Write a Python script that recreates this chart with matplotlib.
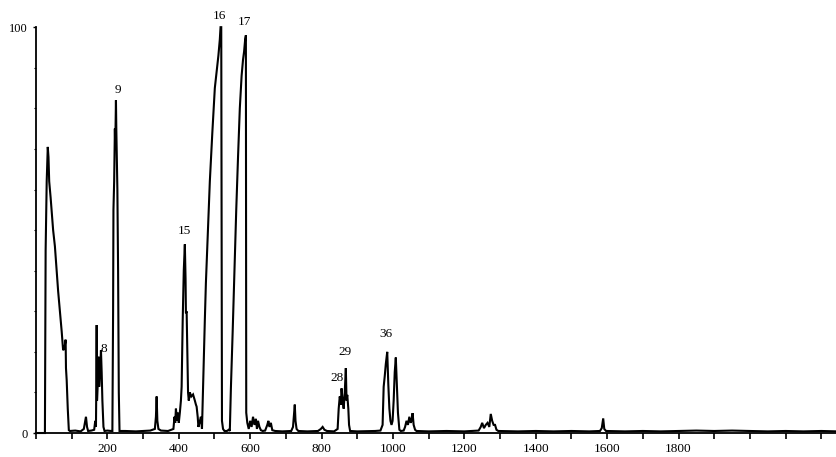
import matplotlib
matplotlib.use("Agg")
import matplotlib.pyplot as plt
from matplotlib.ticker import MultipleLocator

plt.rcParams['font.family'] = ['Liberation Serif', 'DejaVu Serif']

# ---- profile (x = scan / index, y = relative intensity %) ----
# region A: 0 - 240
xa = [0, 25, 26, 27, 30, 33, 35, 37, 41, 48, 53, 58, 62, 67, 72, 76, 80, 83, 84, 86, 89, 92,
      95, 110, 125, 134, 137, 140, 143, 146, 155, 163, 166, 168, 169, 170, 171, 173, 175,
      177, 179, 182, 184, 186, 189, 192, 200, 210, 214, 216, 217, 219, 221, 222, 224,
      225, 228, 230, 232, 234]
ya = [0, 0, 20, 45, 62, 70.5, 68, 62, 58, 50, 46, 40, 35, 30, 25, 20.4, 21, 23, 16, 13, 6, 0.7,
      0.5, 0.6, 0.4, 1, 2.5, 4, 1.5, 0.5, 0.6, 0.8, 3, 1.5, 12, 26.6, 8, 12, 18.8,
      11.4, 14, 20.4, 15, 8, 1.5, 0.5, 0.6, 0.5, 0.5, 30, 55, 62, 75, 70, 82,
      75, 60, 40, 10, 0.5]

# region B: 240 - 700
xb = [250, 280, 320, 333, 336, 338, 340, 343, 350, 370, 385, 388, 390, 392, 395, 398, 400,
      403, 406, 408, 411, 414, 417, 419, 420, 422, 424, 426, 428, 431, 435, 440, 445, 448,
      450, 453, 455, 458, 462, 465, 469, 473, 476, 480, 487, 494, 501, 506, 511, 515, 517,
      519, 520, 521, 524, 528, 535, 540, 543, 546, 551, 556, 561, 566, 571, 576, 580, 583,
      586, 588, 589, 592, 596, 600, 604, 608, 612, 616, 619, 622, 626, 630, 635, 642, 648,
      651, 654, 658, 662, 670, 690]
yb = [0.5, 0.4, 0.6, 1, 4, 9, 3, 1, 0.6, 0.5, 1, 4, 2.5, 6, 3, 5, 2.5,
      5, 8, 11.4, 27.8, 40, 46.5, 38, 29.5, 30, 20, 10, 8, 10, 9, 9.5, 8, 7,
      6.5, 4, 1.5, 2.5, 4, 1, 14.8, 27.8, 37, 46, 62, 74, 85, 89, 93, 97, 100,
      100, 50, 3, 1, 0.5, 0.5, 0.8, 0.5, 11, 25, 40, 55, 68, 80, 88, 92, 94,
      97, 98, 5, 2.5, 1, 3, 1.5, 4, 2, 3.5, 1, 3, 1.5, 0.7, 0.5, 0.6, 2,
      3, 1.5, 2.5, 0.7, 0.5, 0.4]

# region C: 700 - end
xc = [715, 720, 723, 725, 727, 730, 735, 760, 790, 798, 803, 808, 815, 835, 845, 848,
      851, 854, 856, 859, 862, 865, 868, 870, 872, 875, 877, 880, 900, 950, 965, 971, 974,
      977, 980, 984, 987, 990, 993, 996, 999, 1002, 1005, 1008, 1011, 1014, 1018, 1022,
      1030, 1034, 1038, 1042, 1046, 1050, 1053, 1055, 1058, 1062, 1066, 1100, 1150, 1200,
      1240, 1246, 1250, 1255, 1260, 1265, 1270, 1274, 1278, 1282, 1286, 1290, 1295, 1350,
      1400, 1450, 1500, 1550, 1580, 1585, 1589, 1592, 1597, 1650, 1700, 1750, 1800, 1850,
      1900, 1950, 2000, 2050, 2100, 2150, 2200, 2244]
yc = [0.5, 1.5, 5, 7, 3, 1, 0.5, 0.4, 0.5, 1, 1.5, 0.8, 0.5, 0.4, 1, 6,
      9, 7, 11, 8, 6, 10, 16, 8, 9.4, 6, 2, 0.5, 0.4, 0.5, 0.6, 2, 11.4,
      14, 17, 20, 12, 6, 3, 2, 3, 8, 15, 18.6, 12, 5, 0.8, 0.5,
      0.6, 1.5, 3, 2, 4, 2.5, 3.5, 4.9, 2, 0.8, 0.5, 0.4, 0.5, 0.4,
      0.6, 1.5, 2.5, 1.2, 2, 2.5, 1.5, 4.7, 3, 2, 2, 0.8, 0.5, 0.4,
      0.5, 0.4, 0.5, 0.4, 0.5, 1.2, 3.6, 1, 0.5, 0.4, 0.5, 0.4, 0.5, 0.6,
      0.5, 0.6, 0.5, 0.4, 0.5, 0.4, 0.5, 0.4]

peak_labels = ["8", "9", "15", "16", "17", "28", "29", "36"]
peak_label_x = [190, 230, 417, 515, 585, 843, 866, 980]
peak_label_y = [20.7, 84.5, 49.8, 102.7, 101.2, 13.5, 20.0, 24.4]

x_tick_labels = [200, 400, 600, 800, 1000, 1200, 1400, 1600, 1800]

fig = plt.figure(figsize=(8.37, 4.57), dpi=100)
ax = fig.add_axes([0.043, 0.0525, 0.957, 0.888])

ax.plot(xa + xb + xc, ya + yb + yc, color='black', lw=1.5,
        solid_joinstyle='miter', clip_on=False)

ax.set_xlim(0, 2244)
ax.set_ylim(0, 100)

ax.spines['top'].set_visible(False)
ax.spines['right'].set_visible(False)
ax.spines['left'].set_linewidth(1.3)
ax.spines['bottom'].set_linewidth(1.3)

ax.set_xticks(list(range(0, 2244, 100)))
ax.set_xticklabels([str(v) if v in x_tick_labels else "" for v in range(0, 2244, 100)],
                   fontsize=9.5)
ax.tick_params(axis='x', direction='out', length=4, width=1.2, pad=3)

ax.set_yticks([0, 100])
ax.set_yticklabels(["0", "100"], fontsize=9)
ax.yaxis.set_minor_locator(MultipleLocator(10))
ax.tick_params(axis='y', which='major', direction='out', length=2, width=1, pad=4)
ax.tick_params(axis='y', which='minor', direction='out', length=1.5, width=0.8)

for lab, lx, ly in zip(peak_labels, peak_label_x, peak_label_y):
    ax.text(lx, ly, lab, ha='center', va='center', fontsize=9.5, clip_on=False)

fig.savefig("out.png", dpi=100)
